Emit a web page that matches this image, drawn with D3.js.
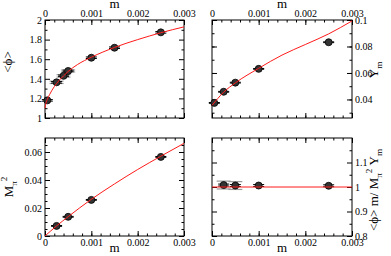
<!DOCTYPE html>
<html>
<head>
<meta charset="utf-8">
<script src="https://cdn.jsdelivr.net/npm/d3@7"></script>
<style>
  body { margin: 0; background: #fff; }
  svg { display: block; font-family: "Liberation Serif", "DejaVu Serif", serif; }
</style>
</head>
<body>
<svg id="chart" width="391" height="256"></svg>
<script>
// ---- data ----
const mCond = [0.00005, 0.00025, 0.0004, 0.0005, 0.001, 0.0015, 0.0025];
const condVals = [1.18, 1.364, 1.43, 1.48, 1.615, 1.717, 1.874];
const condErr = [0.008, 0.008, 0.008, 0.008, 0.008, 0.008, 0.008];
const condErrGray = [0, 0.012, 0.012, 0.01, 0, 0, 0];
const condFitM = [0, 0.00002, 0.00005, 0.0001, 0.0002, 0.0003, 0.0004, 0.0005, 0.0007, 0.001, 0.0015, 0.002, 0.0025, 0.003];
const condFitV = [1.1, 1.15, 1.19, 1.24, 1.32, 1.38, 1.43, 1.475, 1.545, 1.62, 1.72, 1.8, 1.87, 1.93];

const mYm = [0.00005, 0.00025, 0.0005, 0.001, 0.0025];
const ymVals = [0.0374, 0.0458, 0.0527, 0.0631, 0.0832];
const ymErr = [0.0003, 0.0003, 0.0003, 0.0003, 0.0003];
const ymFitM = [0, 0.00025, 0.0005, 0.001, 0.0015, 0.002, 0.0025, 0.003];
const ymFitV = [0.0355, 0.0455, 0.0525, 0.0635, 0.0735, 0.0815, 0.0895, 0.0993];

const mMpi = [0.00025, 0.0005, 0.001, 0.0025];
const mpiVals = [0.0072, 0.0137, 0.0258, 0.0565];
const mpiErr = [0.0003, 0.0003, 0.0003, 0.0003];
const mpiFitM = [0, 0.00025, 0.0005, 0.001, 0.0015, 0.002, 0.0025, 0.003];
const mpiFitV = [0, 0.0072, 0.0138, 0.0262, 0.0372, 0.0475, 0.057, 0.0662];

const mRatio = [0.00025, 0.0005, 0.001, 0.0025];
const ratioVals = [1.008, 1.006, 1.006, 1.005];
const ratioErr = [0.004, 0.004, 0.004, 0.004];
const ratioErrGray = [0.016, 0.016, 0, 0];
const ratioFitM = [0, 0.003];
const ratioFitV = [1, 1];

const mTicks = [0, 0.001, 0.002, 0.003];
const mTickLabels = ["0", "0.001", "0.002", "0.003"];
const condTicks = [1, 1.2, 1.4, 1.6, 1.8, 2];
const ymTicks = [0.04, 0.06, 0.08, 0.1];
const mpiTicks = [0, 0.02, 0.04, 0.06];
const ratioTicks = [0.8, 0.9, 1, 1.1];

const svg = d3.select("#chart");
const red = "#ff1a1a";

const richText = (g, segs, size) => {
  const t = g.append("text").attr("font-size", size).attr("fill", "#000");
  let cur = 0;
  segs.forEach(([s, k]) => {
    const off = k === "sub" ? size * 0.3 : k === "sup" ? -size * 0.45 : 0;
    t.append("tspan")
      .attr("dy", off - cur)
      .attr("font-size", k ? size * 0.7 : size)
      .text(s);
    cur = off;
  });
  return t;
};

const styleAxis = (a) => {
  a.select(".domain").remove();
  a.attr("font-family", null).attr("font-size", 10);
  a.selectAll("line").attr("stroke", "#000");
  a.selectAll("text").attr("fill", "#000");
};

const drawPanel = (p) => {
  const x = d3.scaleLinear().domain([0, 0.003]).range([p.left, p.left + p.w]);
  const y = d3.scaleLinear().domain(p.yDomain).range([p.top + p.h, p.top]);
  const g = svg.append("g");

  // axes, ticks pointing inward, on all four sides
  const sides = [
    ["bottom", p.top + p.h, "x"],
    ["top", p.top, "x"],
    ["left", p.left, "y"],
    ["right", p.left + p.w, "y"],
  ];
  const makeAxis = (side) =>
    side === "bottom" ? d3.axisBottom(x) : side === "top" ? d3.axisTop(x)
      : side === "left" ? d3.axisLeft(y) : d3.axisRight(y);
  sides.forEach(([side, pos, dim]) => {
    const tr = dim === "x" ? `translate(0,${pos})` : `translate(${pos},0)`;
    const major = dim === "x" ? mTicks : p.yTicks;
    const minor = dim === "x" ? p.xMinor : p.yMinor;
    const labelled = side === p.xLabelSide || side === p.yLabelSide;
    const fmt = dim === "x" ? (d, i) => mTickLabels[i] : p.yFormat;
    const a = g.append("g").attr("transform", tr)
      .call(makeAxis(side).tickValues(major).tickSize(-5).tickSizeOuter(0).tickPadding(3)
        .tickFormat(labelled ? fmt : ""));
    styleAxis(a);
    const b = g.append("g").attr("transform", tr)
      .call(makeAxis(side).tickValues(minor).tickSize(-2.5).tickSizeOuter(0).tickFormat(""));
    styleAxis(b);
  });

  g.append("rect")
    .attr("x", p.left).attr("y", p.top)
    .attr("width", p.w).attr("height", p.h)
    .attr("fill", "none").attr("stroke", "#000").attr("stroke-width", 1);

  // gray error bars (second estimate)
  const pts = p.m.map((m, i) => ({ m, v: p.v[i], e: p.err[i], eg: p.errGray ? p.errGray[i] : 0 }));
  pts.filter((d) => d.eg > 0).forEach((d) => {
    const cx = x(d.m);
    [d.v - d.eg, d.v + d.eg].forEach((yy) => {
      g.append("line").attr("x1", cx - 7).attr("x2", cx + 7)
        .attr("y1", y(yy)).attr("y2", y(yy))
        .attr("stroke", "#9a9a9a").attr("stroke-width", 1.2);
    });
    g.append("line").attr("x1", cx).attr("x2", cx)
      .attr("y1", y(d.v - d.eg)).attr("y2", y(d.v + d.eg))
      .attr("stroke", "#9a9a9a").attr("stroke-width", 1.2);
  });

  // black error bars
  pts.forEach((d) => {
    const cx = x(d.m);
    [d.v - d.e, d.v + d.e].forEach((yy) => {
      g.append("line").attr("x1", cx - 5.5).attr("x2", cx + 5.5)
        .attr("y1", y(yy)).attr("y2", y(yy))
        .attr("stroke", "#000").attr("stroke-width", 1);
    });
  });

  g.selectAll("circle.pt")
    .data(pts)
    .enter()
    .append("circle")
    .attr("class", "pt")
    .attr("cx", (d) => x(d.m))
    .attr("cy", (d) => y(d.v))
    .attr("r", 3.5)
    .attr("fill", "#333")
    .attr("stroke", "#000")
    .attr("stroke-width", 0.8);

  const fit = p.fitM.map((m, i) => [m, p.fitV[i]]);
  g.append("path")
    .datum(fit)
    .attr("fill", "none")
    .attr("stroke", red)
    .attr("stroke-width", 1)
    .attr("d", d3.line().x((d) => x(d[0])).y((d) => y(d[1])).curve(d3.curveMonotoneX));

  // axis titles
  const mx = p.left + p.w / 2;
  const my = p.xLabelSide === "top" ? p.top - 12 : p.top + p.h + 16;
  g.append("text").attr("x", mx).attr("y", my).attr("text-anchor", "middle")
    .attr("font-size", 13).text("m");

  const lab = g.append("g")
    .attr("transform", `translate(${p.yLabelX},${p.top + p.h / 2 + p.yLabelDy}) rotate(-90)`);
  richText(lab, p.yLabel, 13).attr("text-anchor", "middle").attr("dy", "0.35em");
};

const fmtTrim = (d) => d3.format("~g")(d);

drawPanel({
  left: 45, top: 20, w: 139, h: 98,
  yDomain: [1, 2], yTicks: condTicks, yMinor: d3.range(1.1, 2, 0.2),
  xMinor: d3.range(0.0002, 0.003, 0.0002),
  xLabelSide: "top", yLabelSide: "left", yFormat: fmtTrim,
  m: mCond, v: condVals, err: condErr, errGray: condErrGray,
  fitM: condFitM, fitV: condFitV,
  yLabelX: 12, yLabelDy: -7, yLabel: [["<ϕ>", null]],
});

drawPanel({
  left: 212, top: 20, w: 140, h: 98,
  yDomain: [0.026, 0.1], yTicks: ymTicks, yMinor: d3.range(0.03, 0.1, 0.01),
  xMinor: d3.range(0.0002, 0.003, 0.0002),
  xLabelSide: "top", yLabelSide: "right", yFormat: fmtTrim,
  m: mYm, v: ymVals, err: ymErr,
  fitM: ymFitM, fitV: ymFitV,
  yLabelX: 378, yLabelDy: 1, yLabel: [["Y", null], ["m", "sub"]],
});

drawPanel({
  left: 45, top: 138, w: 139, h: 98,
  yDomain: [0, 0.07], yTicks: mpiTicks, yMinor: d3.range(0.005, 0.07, 0.005),
  xMinor: d3.range(0.0002, 0.003, 0.0002),
  xLabelSide: "bottom", yLabelSide: "left", yFormat: fmtTrim,
  m: mMpi, v: mpiVals, err: mpiErr,
  fitM: mpiFitM, fitV: mpiFitV,
  yLabelX: 13, yLabelDy: 0, yLabel: [["M", null], ["π", "sub"], ["2", "sup"]],
});

drawPanel({
  left: 212, top: 138, w: 140, h: 98,
  yDomain: [0.8, 1.2], yTicks: ratioTicks, yMinor: d3.range(0.85, 1.2, 0.1),
  xMinor: d3.range(0.0002, 0.003, 0.0002),
  xLabelSide: "bottom", yLabelSide: "right", yFormat: fmtTrim,
  m: mRatio, v: ratioVals, err: ratioErr, errGray: ratioErrGray,
  fitM: ratioFitM, fitV: ratioFitV,
  yLabelX: 378, yLabelDy: 3,
  yLabel: [["<ϕ> m/ M", null], ["π", "sub"], ["2", "sup"], [" Y", null], ["m", "sub"]],
});
</script>
</body>
</html>
